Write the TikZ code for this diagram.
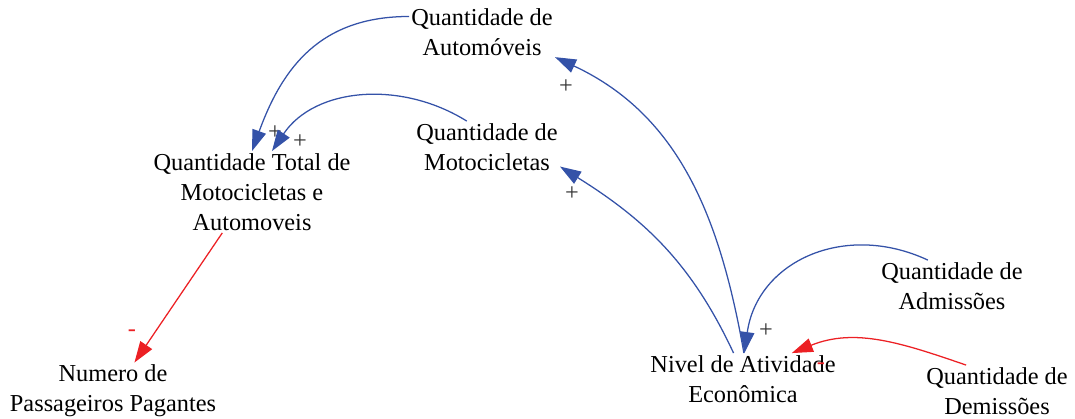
\documentclass[tikz,border=0pt]{standalone}
\usepackage{fontspec}
\setmainfont{Liberation Serif}
\usetikzlibrary{arrows.meta}

\definecolor{linkblue}{RGB}{52,82,168}
\definecolor{linkred}{RGB}{236,32,36}

\begin{document}
\begin{tikzpicture}[
  x=0.025cm, y=-0.025cm,
  var/.style={align=center, inner sep=1.5pt, font=\fontsize{17.3}{21.3}\selectfont},
  sign/.style={inner sep=0pt, font=\fontsize{17.3}{21.3}\selectfont, text=black!80},
  poslink/.style={draw=linkblue, line width=0.9pt, -{Triangle[length=15pt,width=10pt]}},
  neglink/.style={draw=linkred, line width=0.9pt, -{Triangle[length=15pt,width=10pt]}}
]
\useasboundingbox (0,0) rectangle (1075,419);

% variables
\node[var] (auto) at (482,32) {Quantidade de\\Automóveis};
\node[var] (moto) at (487,147) {Quantidade de\\Motocicletas};
\node[var] (total) at (252,192) {Quantidade Total de\\Motocicletas e\\Automoveis};
\node[var] (num) at (113,391) {Numero de\\Passageiros Pagantes};
\node[var] (nivel) at (743,379) {Nivel de Atividade\\Econômica};
\node[var] (adm) at (952,286) {Quantidade de\\Admissões};
\node[var] (dem) at (997,391) {Quantidade de\\Demissões};

% polarities
\node[sign] (s1) at (275,133) {+};
\node[sign] (s2) at (300,142) {+};
\node[sign] (s3) at (566,87) {+};
\node[sign] (s4) at (572,194) {+};
\node[sign] (s5) at (766,331) {+};
\node[sign, text=linkred] (s6) at (132,333) {-};
\node[sign, text=linkred] (s7) at (821,366) {-};

% links
\draw[poslink] (auto.168) to[out=180,in=70,looseness=1.1] (total.north);
\draw[poslink] (moto.128) to[out=148,in=56] (total.64);
\draw[poslink] (nivel.88) to[out=100,in=-25] (auto.-19);
\draw[poslink] (nivel.110) to[out=115,in=-32] (moto.-15);
\draw[poslink] (adm.133) to[out=155,in=82,looseness=1.15] (nivel.87);
\draw[neglink] (dem.140) to[out=161,in=22] (nivel.28);
\draw[neglink] (total.234) -- (num.53);
\end{tikzpicture}
\end{document}
